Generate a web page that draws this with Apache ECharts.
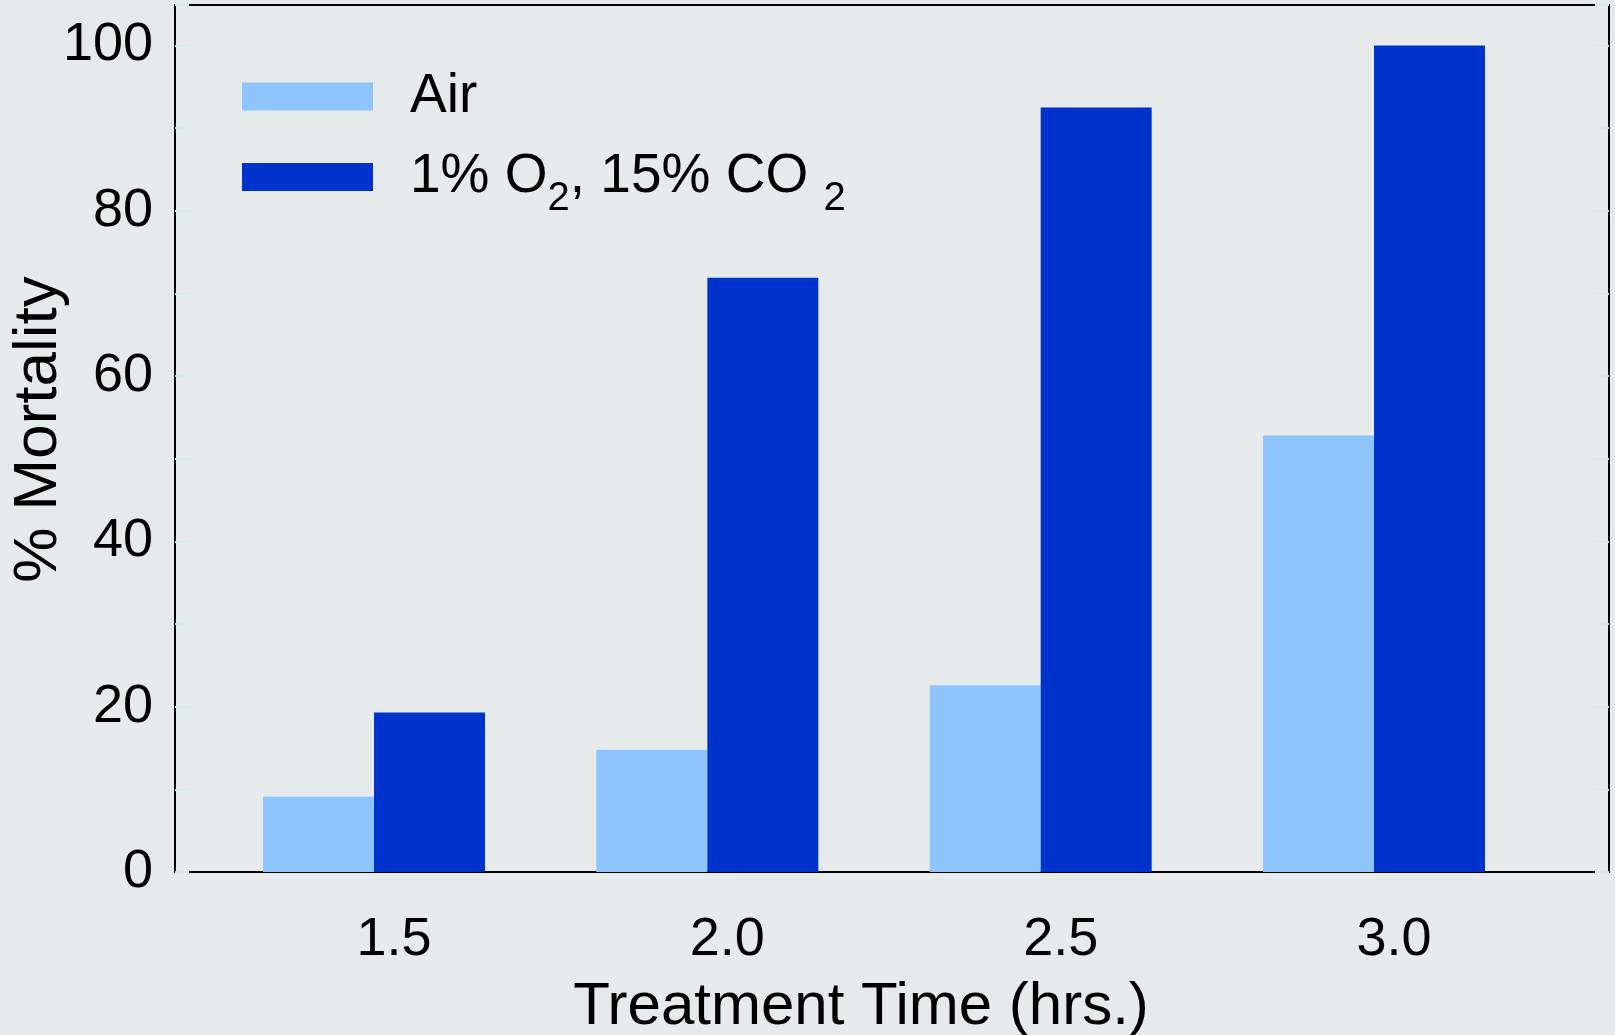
<!DOCTYPE html>
<html>
<head>
<meta charset="utf-8">
<script src="https://cdn.jsdelivr.net/npm/echarts@6/dist/echarts.min.js"></script>
<style>
html,body{margin:0;padding:0;background:#e6eaeb;}
#chart{width:1615px;height:1035px;}
</style>
</head>
<body>
<div id="chart"></div>
<script>
// Data
const categories = [1.5, 2.0, 2.5, 3.0];          // treatment time (hrs.)
const airValues = [9.1, 14.8, 22.6, 52.8];         // % mortality, Air
const lowO2Values = [19.3, 71.9, 92.5, 100];       // % mortality, 1% O2, 15% CO2
const seriesNames = ['Air', '1% O2, 15% CO2'];
const yTickLabels = [0, 20, 40, 60, 80, 100];

const FONT = "'Liberation Sans', Arial, sans-serif";

const chart = echarts.init(document.getElementById('chart'));
const pairs = vals => categories.map((c, i) => [c, vals[i]]);

chart.setOption({
  backgroundColor: '#e6eaeb',
  animation: false,
  textStyle: { fontFamily: FONT, color: '#000' },
  grid: {
    left: 175, right: 6, top: 5, bottom: 163,
    outerBoundsMode: 'none',
    containLabel: false,
    show: true, borderColor: '#000', borderWidth: 2, backgroundColor: 'transparent'
  },
  legend: {
    orient: 'vertical',
    left: 242, top: 69,
    padding: 0,
    itemWidth: 131, itemHeight: 28, itemGap: 23,
    icon: 'rect',
    data: seriesNames,
    formatter: function (name) {
      if (name === seriesNames[1]) return '{m|1% O}{s|2}{m|, 15% CO }{s|2}';
      return '{m|' + name + '}';
    },
    textStyle: {
      padding: [0, 0, 0, 32],
      rich: {
        m: { fontSize: 55, fontFamily: FONT, color: '#000', lineHeight: 60, verticalAlign: 'middle' },
        s: { fontSize: 40, fontFamily: FONT, color: '#000', lineHeight: 14, verticalAlign: 'top', padding: [32, 0, 0, 0] }
      }
    }
  },
  xAxis: {
    type: 'value',
    min: 1.2015, max: 3.3525,
    splitLine: { show: false },
    axisLine: { show: true, onZero: false, lineStyle: { color: '#000', width: 2 } },
    axisTick: { show: false },
    axisLabel: {
      customValues: categories,
      formatter: v => Number(v).toFixed(1),
      fontSize: 54, fontFamily: FONT, color: '#000', margin: 41,
      padding: [0, 0, 0, 40]
    },
    name: 'Treatment Time (hrs.)',
    nameLocation: 'middle',
    nameGap: 105,
    nameMoveOverlap: false,
    nameTextStyle: { fontSize: 60, fontFamily: FONT, color: '#000', padding: [0, 62, 0, 0] }
  },
  yAxis: [{
    type: 'value',
    min: 0, max: 104.9, interval: 10,
    splitLine: { show: false },
    axisLine: { show: true, lineStyle: { color: '#000', width: 2 } },
    axisTick: { show: true, inside: true, length: 14, lineStyle: { color: '#d3eee9', width: 2 } },
    axisLabel: {
      formatter: v => (yTickLabels.indexOf(v) >= 0 ? String(v) : ''),
      fontSize: 54, fontFamily: FONT, color: '#000', margin: 22
    },
    name: '% Mortality',
    nameLocation: 'middle',
    nameGap: 105,
    nameMoveOverlap: false,
    nameTextStyle: { fontSize: 62, fontFamily: FONT, color: '#000', padding: [0, 0, 0, 18] }
  }, {
    type: 'value',
    position: 'right',
    min: 0, max: 104.9, interval: 10,
    splitLine: { show: false },
    axisLine: { show: false },
    axisTick: { show: true, inside: true, length: 14, lineStyle: { color: '#d3eee9', width: 2 } },
    axisLabel: { show: false }
  }],
  series: [{
    name: seriesNames[0],
    type: 'bar',
    data: pairs(airValues),
    barWidth: 111,
    barGap: '0%',
    itemStyle: { color: '#8fc5fd' }
  }, {
    name: seriesNames[1],
    type: 'bar',
    data: pairs(lowO2Values),
    barWidth: 111,
    barGap: '0%',
    itemStyle: { color: '#0033cc' }
  }]
});
</script>
</body>
</html>
